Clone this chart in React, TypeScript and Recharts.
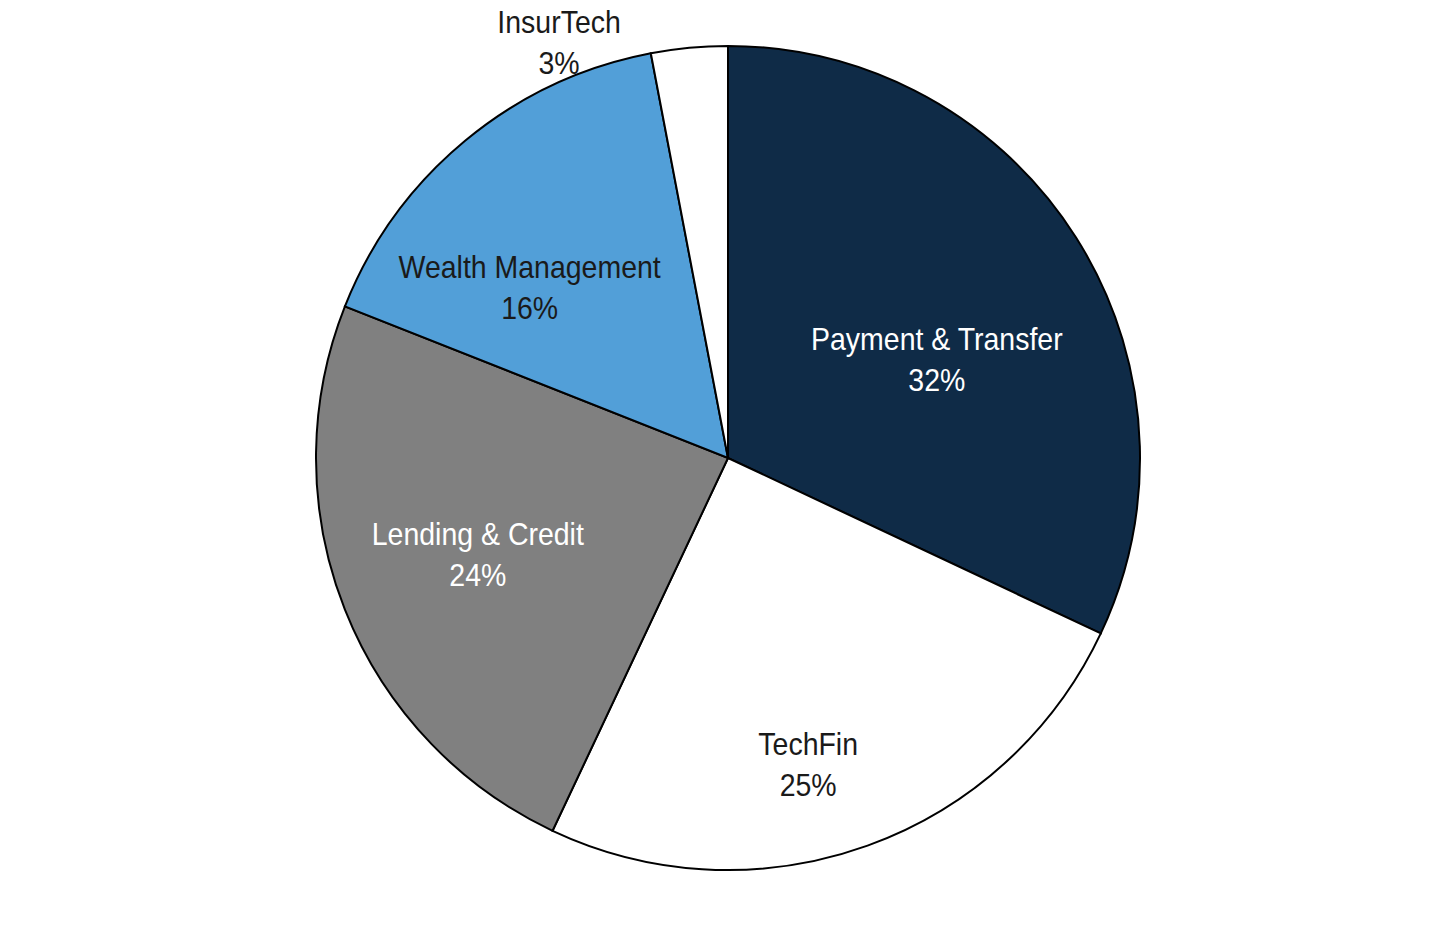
import React from "react";
import { PieChart, Pie, Cell } from "recharts";

const categories = ["Payment & Transfer", "TechFin", "Lending & Credit", "Wealth Management", "InsurTech"];
const shares = [32, 25, 24, 16, 3];
const sliceColors = ["#0f2b47", "#ffffff", "#808080", "#529fd8", "#ffffff"];
const textColors = ["#ffffff", "#1a1a1a", "#ffffff", "#1a1a1a", "#1a1a1a"];
// label placement: radius and angular shift (degrees, clockwise) from the slice's mid-angle
const labelRadius = [231, 316, 268, 262, 449];
const labelShift = [7.1, 5.1, 0.6, -9.6, -16.7];

const data = categories.map((name, i) => ({ name, value: shares[i] }));

const RAD = Math.PI / 180;
const FONT = "'Liberation Sans', Arial, sans-serif";
const SX = 0.89;

const renderLabel = (props: any) => {
  const { cx, cy, midAngle, index, name, percent } = props;
  const ang = midAngle - labelShift[index];
  const r = labelRadius[index];
  const x = cx + Math.cos(-ang * RAD) * r;
  const y = cy + Math.sin(-ang * RAD) * r;
  const pct = Math.round(percent * 100) + "%";
  return (
    <g transform={`translate(${x},${y}) scale(${SX},1)`}>
      <text
        x={0}
        y={0}
        textAnchor="middle"
        fill={textColors[index]}
        style={{ fontFamily: FONT, fontSize: 32 }}
      >
        <tspan x={0} y={-20} dominantBaseline="central">{name}</tspan>
        <tspan x={0} y={21} dominantBaseline="central">{pct}</tspan>
      </text>
    </g>
  );
};

export default function App() {
  return (
    <div style={{ position: "absolute", left: 0, top: 0, width: 1440, height: 926, background: "#ffffff" }}>
      <PieChart width={1440} height={926} margin={{ top: 0, right: 0, bottom: 0, left: 0 }}>
        <Pie
          data={data}
          dataKey="value"
          nameKey="name"
          cx={728}
          cy={458}
          outerRadius={412}
          startAngle={90}
          endAngle={-270}
          stroke="#000000"
          strokeWidth={2}
          labelLine={false}
          label={renderLabel}
          isAnimationActive={false}
        >
          {data.map((d, i) => (
            <Cell key={d.name} fill={sliceColors[i]} />
          ))}
        </Pie>
      </PieChart>
    </div>
  );
}
